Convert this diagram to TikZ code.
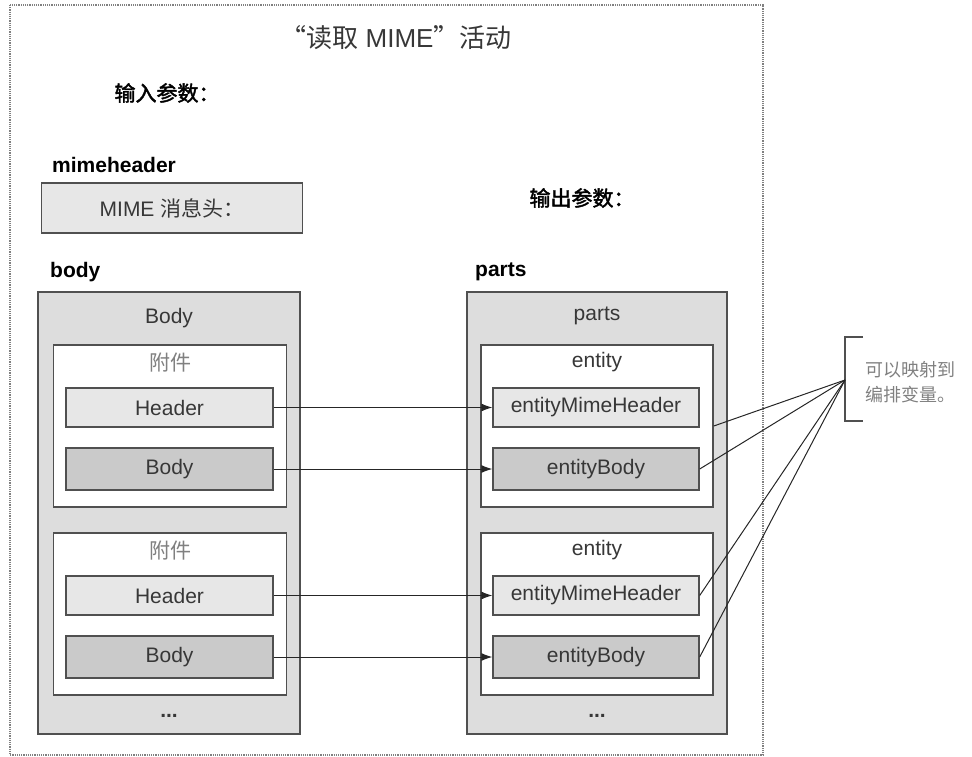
\documentclass[tikz,border=0pt]{standalone}
\usepackage{fontspec}
\setmainfont{Liberation Sans}
\newfontfamily\cjk[AutoFakeBold=2]{Noto Sans CJK SC}
\usetikzlibrary{arrows.meta,positioning}
\definecolor{edgegray}{RGB}{80,80,80}
\definecolor{panelgray}{RGB}{221,221,221}
\definecolor{hdrgray}{RGB}{231,231,231}
\definecolor{bdygray}{RGB}{202,202,202}
\definecolor{txtgray}{RGB}{55,55,55}

\begin{document}
\begin{tikzpicture}[x=1pt,y=-1pt,>={Latex[length=11pt,width=8pt]},
  every node/.style={font=\fontsize{21}{25}\selectfont,inner sep=0pt,text=txtgray},
  lbl/.style={font=\fontsize{21}{25}\selectfont\bfseries,text=black},
  panel/.style={draw=edgegray,line width=1.6pt,fill=panelgray,minimum width=262,minimum height=442},
  attach/.style={draw=edgegray,line width=1.6pt,fill=white,minimum width=233,minimum height=162},
  hdrbox/.style={draw=edgegray,line width=1.4pt,fill=hdrgray,minimum width=207,minimum height=39},
  bdybox/.style={draw=edgegray,line width=1.4pt,fill=bdygray,minimum width=207,minimum height=42},
  link/.style={draw=black!85,line width=1pt}]
  \useasboundingbox (0,0) rectangle (972,757);
  \draw[gray,densely dotted,line width=1.2pt] (10,5) rectangle (763,755);

  \node (title) at (396,38) {\fontsize{26}{30}\selectfont{\cjk “读取} MIME{\cjk ”活动}};
  \node[lbl] (inlbl) at (167,93) {\cjk 输入参数：};
  \node[lbl,anchor=west] (mhlbl) at (52,165) {mimeheader};
  \node[hdrbox,minimum width=261,minimum height=50] (mimehdr) at (172,208) {MIME {\cjk 消息头：}};
  \node[lbl] (outlbl) at (582,198) {\cjk 输出参数：};

  % input side
  \node[lbl,anchor=west] (bodylbl) at (50,272) {body};
  \node[panel] (bodypanel) at (169,513) {};
  \node (bodytitle) at (169,318) {Body};
  % output side
  \node[lbl,anchor=west] (partslbl) at (475,272) {parts};
  \node[panel,minimum width=260] (partspanel) at (597,513) {};
  \node (partstitle) at (597,316) {parts};

  \foreach \i/\y in {1/426,2/614}{
    \node[attach] (att\i) at (170,\y) {};
    \node[text=gray] (attlbl\i) at (170,\y-63) {\cjk 附件};
    \node[hdrbox] (hdr\i) at (169.5,\y-18.5) {Header};
    \node[bdybox] (bdy\i) at (169.5,\y+43) {Body};
    \node[attach,minimum width=232] (ent\i) at (597,\y) {};
    \node (entlbl\i) at (597,\y-64) {entity};
    \node[hdrbox,minimum width=206] (emh\i) at (596,\y-18.5) {entityMimeHeader};
    \node[bdybox,minimum width=206] (eb\i) at (596,\y+43) {entityBody};
    \draw[link,->] (hdr\i) -- (emh\i);
    \draw[link,->] (bdy\i) -- (eb\i);
  }
  \node (bodydots) at (169,716) {\bfseries ...};
  \node (partsdots) at (597,716) {\bfseries ...};

  % note on the right
  \coordinate (hub) at (845,380);
  \draw[edgegray,line width=1.4pt] (863,337) -- (845,337) -- (845,421) -- (863,421);
  \node[anchor=west,align=left,font=\fontsize{18}{25}\selectfont,text=gray] (note) at (865,382)
    {\cjk 可以映射到\\\cjk 编排变量。};
  \foreach \n in {ent1,eb1,emh2,eb2}
    \draw[link] (\n.east) -- (hub);
\end{tikzpicture}
\end{document}
